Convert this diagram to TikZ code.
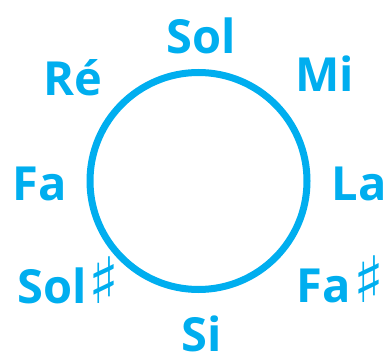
\documentclass[tikz,border=0pt]{standalone}
\usepackage{fontspec}
\setmainfont{Open Sans}
\newfontfamily\symfont{DejaVu Sans}
\definecolor{cyanline}{RGB}{0,174,239}
\tikzset{
  note/.style={anchor=base, inner sep=0pt, text=cyanline, font=\fontsize{47}{47}\selectfont\bfseries}
}
\newcommand{\shp}{{\symfont\mdseries\fontsize{64}{64}\selectfont\kern2pt ♯}}
\begin{document}
\begin{tikzpicture}[x=1pt,y=1pt]
\useasboundingbox (0,-353) rectangle (385,0);
\draw[cyanline, line width=7pt] (198.5,-181) circle (108.5);
\node[note] (sol) at (201,-53) {Sol};
\node[note] (mi) at (324.5,-91) {Mi};
\node[note] (la) at (359,-200) {La};
\node[note] (fas) at (340.5,-302) {Fa\shp};
\node[note] (si) at (202,-351) {Si};
\node[note] (sols) at (68.5,-303) {Sol\shp};
\node[note] (fa) at (40,-200) {Fa};
\node[note] (re) at (72.5,-95) {Ré};
\end{tikzpicture}
\end{document}
